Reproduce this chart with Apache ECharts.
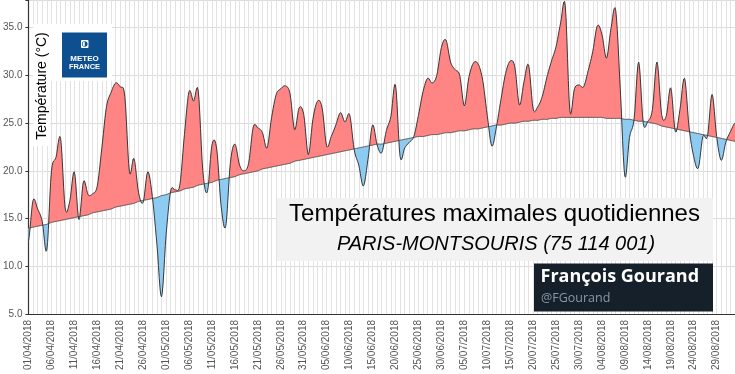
<!DOCTYPE html>
<html><head><meta charset="utf-8">
<script src="https://cdn.jsdelivr.net/npm/echarts@6/dist/echarts.min.js"></script>
<style>html,body{margin:0;padding:0;background:#fff;}#c{width:735px;height:374px;}</style>
</head><body><div id="c"></div>
<script>
// Daily max temperature, Paris-Montsouris, from 01/04/2018 (one value per day)
const tmax = [
 12.6, 16.9, 16.0, 14.7, 11.7, 19.9, 21.4, 23.4, 16.1, 16.8,
 19.9, 14.9, 18.9, 17.5, 17.6, 18.4, 22.4, 26.7, 28.2, 29.2,
 28.8, 27.8, 19.9, 21.3, 17.7, 16.7, 19.9, 17.3, 12.3, 6.8,
 13.3, 17.9, 18.0, 18.5, 23.8, 28.3, 27.3, 28.4, 20.0, 17.8,
 22.7, 22.4, 16.3, 14.2, 20.8, 22.8, 20.6, 20.0, 20.8, 24.6,
 24.5, 24.0, 22.4, 25.6, 28.0, 28.6, 28.9, 28.1, 24.3, 26.6,
 25.9, 21.7, 25.4, 27.3, 26.6, 22.6, 23.6, 24.8, 26.1, 25.1,
 25.9, 22.2, 20.6, 18.4, 21.2, 24.8, 22.7, 21.9, 24.2, 25.7,
 29.0, 21.5, 22.4, 23.0, 23.6, 25.8, 28.3, 29.7, 29.2, 30.0,
 32.9, 33.7, 31.4, 30.6, 30.0, 26.8, 29.8, 31.3, 31.2, 29.5,
 25.8, 22.6, 24.6, 27.5, 30.2, 31.5, 30.9, 26.9, 29.3, 31.1,
 26.5, 26.7, 27.8, 29.8, 31.5, 33.0, 35.5, 37.3, 26.3, 28.6,
 29.0, 28.8, 30.5, 32.5, 35.2, 34.3, 31.8, 35.0, 36.8, 28.5,
 19.4, 23.5, 25.4, 31.4, 25.0, 25.2, 26.4, 31.4, 25.9, 25.7,
 28.7, 24.1, 26.4, 29.7, 24.5, 21.5, 20.3, 23.6, 23.6, 28.0,
 23.6, 21.1, 23.0, 24.1, 25.0
];
// Seasonal normal of the daily max
const normal = [
 14.0,
 14.1, 14.2, 14.3, 14.4, 14.6, 14.7, 14.8, 14.9, 15.0, 15.1, 15.2,
 15.3, 15.4, 15.6, 15.7, 15.8, 15.9, 16.0, 16.2, 16.3, 16.4, 16.5, 16.6, 16.8, 16.9, 17.0, 17.1,
 17.2, 17.4, 17.5, 17.7, 17.8, 17.9, 18.1, 18.2, 18.3, 18.5, 18.6,
 18.7, 18.8, 19.0, 19.1, 19.2, 19.3, 19.4, 19.6, 19.7, 19.8,
 19.9, 20.0, 20.2, 20.3, 20.4, 20.5, 20.6, 20.7, 20.8, 21.0, 21.1,
 21.2, 21.3, 21.4, 21.5, 21.6, 21.7, 21.8, 21.9, 22.0, 22.1, 22.2,
 22.3, 22.4, 22.5, 22.6, 22.7, 22.8, 22.8, 22.9, 23.0, 23.1, 23.2, 23.3, 23.4, 23.5,
 23.6, 23.6, 23.7, 23.8, 23.8, 23.9, 24.0, 24.0, 24.1, 24.2, 24.2, 24.3, 24.4, 24.4, 24.5, 24.6,
 24.7, 24.8, 24.8, 24.9, 25.0, 25.0, 25.1, 25.2, 25.2, 25.3, 25.3, 25.4, 25.4, 25.5, 25.5, 25.6,
 25.6, 25.6, 25.6, 25.6, 25.6, 25.6, 25.6, 25.6, 25.6, 25.5, 25.5, 25.5, 25.5,
 25.4, 25.4, 25.3, 25.2, 25.2, 25.1,
 25.0, 24.9, 24.7, 24.6, 24.5, 24.4, 24.3, 24.2, 24.1, 24.0, 23.9,
 23.8, 23.7, 23.6, 23.5, 23.4, 23.3, 23.2, 23.1
];
// Category labels: consecutive days starting 01/04/2018
const firstDay = [2018, 4, 1];
const dates = [];
for (let i = 0; i < tmax.length; i++) {
  const d = new Date(Date.UTC(firstDay[0], firstDay[1] - 1, firstDay[2] + i));
  const dd = String(d.getUTCDate()).padStart(2, '0');
  const mm = String(d.getUTCMonth() + 1).padStart(2, '0');
  dates.push(dd + '/' + mm + '/' + d.getUTCFullYear());
}
const titleText = 'Températures maximales quotidiennes';
const subtitleText = 'PARIS-MONTSOURIS (75 114 001)';
const yName = 'Température (°C)';

const RED = '#ff8585', BLUE = '#8ecbf3';
const SUB = 6; // smoothing sub-steps between two days (rendering only)

// Smooth (Catmull-Rom) path through the pixel positions given by the axes
function smoothPath(pts) {
  const out = [];
  const n = pts.length;
  for (let i = 0; i < n - 1; i++) {
    const p0 = pts[Math.max(i - 1, 0)], p1 = pts[i], p2 = pts[i + 1], p3 = pts[Math.min(i + 2, n - 1)];
    for (let j = 0; j < SUB; j++) {
      const t = j / SUB, t2 = t * t, t3 = t2 * t;
      const x = p1[0] + (p2[0] - p1[0]) * t;
      const y = 0.5 * (2 * p1[1] + (-p0[1] + p2[1]) * t + (2 * p0[1] - 5 * p1[1] + 4 * p2[1] - p3[1]) * t2 + (-p0[1] + 3 * p1[1] - 3 * p2[1] + p3[1]) * t3);
      out.push([x, y]);
    }
  }
  out.push(pts[n - 1].slice());
  return out;
}

function renderAll(params, api) {
  if (params.dataIndex !== 0) return null;
  const A = smoothPath(tmax.map(function (v, i) { return api.coord([i, v]); }));
  const N = smoothPath(normal.map(function (v, i) { return api.coord([i, v]); }));
  const children = [];
  let cur = null;
  function flush() {
    if (cur && cur.top.length > 1) {
      const c = cur.sign > 0 ? RED : BLUE;
      children.push({ type: 'polygon', shape: { points: cur.top.concat(cur.bottom.slice().reverse()) },
        style: { fill: c, stroke: c, lineWidth: 0.3 } });
    }
    cur = null;
  }
  for (let k = 0; k < A.length; k++) {
    const diff = N[k][1] - A[k][1]; // >0 : above normal
    const s = diff >= 0 ? 1 : -1;
    if (k > 0 && cur && cur.sign !== s) {
      const d0 = N[k - 1][1] - A[k - 1][1];
      const t = d0 / (d0 - diff);
      const cp = [A[k - 1][0] + t * (A[k][0] - A[k - 1][0]), A[k - 1][1] + t * (A[k][1] - A[k - 1][1])];
      cur.top.push(cp); cur.bottom.push(cp);
      flush();
      cur = { sign: s, top: [cp], bottom: [cp] };
    }
    if (!cur) cur = { sign: s, top: [], bottom: [] };
    cur.top.push(A[k]); cur.bottom.push(N[k]);
  }
  flush();
  children.push({ type: 'polyline', shape: { points: N }, style: { fill: null, stroke: '#555', lineWidth: 1 } });
  children.push({ type: 'polyline', shape: { points: A }, style: { fill: null, stroke: '#3a3a3a', lineWidth: 1 } });
  return { type: 'group', children: children };
}

const chart = echarts.init(document.getElementById('c'), null, { renderer: 'canvas' });
chart.setOption({
  animation: false,
  backgroundColor: '#ffffff',
  grid: { left: 26, right: 0, top: 0, bottom: 60, containLabel: false },
  xAxis: {
    type: 'category', data: dates, boundaryGap: false,
    axisLine: { show: true, lineStyle: { color: '#333', width: 1.2 } },
    axisTick: { show: false },
    axisLabel: { interval: 4, rotate: 90, fontSize: 10, color: '#555', margin: 6, fontFamily: 'Liberation Sans' },
    splitLine: { show: true, interval: 0, lineStyle: { color: '#e2e2e2', width: 1 } }
  },
  yAxis: {
    type: 'value', min: 5, max: 37.9, interval: 5,
    axisLine: { show: true, lineStyle: { color: '#333', width: 1.2 } },
    axisTick: { show: true, length: 3, lineStyle: { color: '#333' } },
    axisLabel: { fontSize: 10, color: '#555', margin: 6, fontFamily: 'Liberation Sans',
      formatter: function (v) { return Math.abs(v % 5) < 1e-9 ? v.toFixed(1) : ''; } },
    splitLine: { show: true, lineStyle: { color: '#dcdcdc', width: 1 } }
  },
  series: [
    { type: 'custom', renderItem: renderAll, data: tmax.map(function (v, i) { return [i, v]; }),
      encode: { x: 0, y: 1 }, clip: true, silent: true, z: 2 },
    { type: 'line', data: normal, symbol: 'none', silent: true, z: 1,
      lineStyle: { opacity: 0 } }
  ],
  graphic: [
    { type: 'rect', z: 50, shape: { x: 33, y: 24, width: 79, height: 57 }, style: { fill: '#fff' } },
    { type: 'rect', z: 50, shape: { x: 33, y: 24, width: 17, height: 122 }, style: { fill: '#fff' } },
    { type: 'text', z: 51, x: 42, y: 86, rotation: Math.PI / 2,
      style: { text: yName, font: '14px "Liberation Sans", Arial, sans-serif', fill: '#000', align: 'center', verticalAlign: 'middle' } },
    { type: 'rect', z: 51, shape: { x: 62, y: 32.5, width: 45, height: 45 }, style: { fill: '#0d4f8f' } },
    { type: 'rect', z: 52, shape: { x: 81, y: 40, width: 7.5, height: 8, r: 1 }, style: { fill: '#fff' } },
    { type: 'circle', z: 53, shape: { cx: 84.75, cy: 44, r: 2.8 }, style: { fill: '#0d4f8f' } },
    { type: 'sector', z: 54, shape: { cx: 84.75, cy: 44, r: 2.2, r0: 0, startAngle: Math.PI / 2, endAngle: Math.PI * 1.5 }, style: { fill: '#fff' } },
    { type: 'text', z: 52, x: 84.5, y: 58.5,
      style: { text: 'METEO', font: 'bold 8px "Liberation Sans", Arial, sans-serif', fill: '#fff', align: 'center', verticalAlign: 'middle' } },
    { type: 'text', z: 52, x: 84.5, y: 66.5,
      style: { text: 'FRANCE', font: 'bold 7.5px "Liberation Sans", Arial, sans-serif', fill: '#fff', align: 'center', verticalAlign: 'middle' } },
    { type: 'rect', z: 50, shape: { x: 277, y: 198, width: 436, height: 63 }, style: { fill: '#f2f2f2' } },
    { type: 'text', z: 51, x: 494.5, y: 214.8,
      style: { text: titleText, font: '24px "Liberation Sans", Arial, sans-serif', fill: '#000', align: 'center', verticalAlign: 'middle' } },
    { type: 'text', z: 51, x: 496, y: 244,
      style: { text: subtitleText, font: 'italic 20px "Liberation Sans", Arial, sans-serif', fill: '#000', align: 'center', verticalAlign: 'middle' } },
    { type: 'rect', z: 50, shape: { x: 534, y: 263.5, width: 179, height: 48 }, style: { fill: '#15202b' } },
    { type: 'text', z: 51, x: 540.5, y: 277,
      style: { text: 'François Gourand', font: 'bold 18px "Open Sans", "Noto Sans", sans-serif', fill: '#fff', align: 'left', verticalAlign: 'middle' } },
    { type: 'text', z: 51, x: 541, y: 298.5,
      style: { text: '@FGourand', font: '12.5px "Open Sans", "Noto Sans", sans-serif', fill: '#8899a6', align: 'left', verticalAlign: 'middle' } }
  ]
});
</script>
</body></html>
